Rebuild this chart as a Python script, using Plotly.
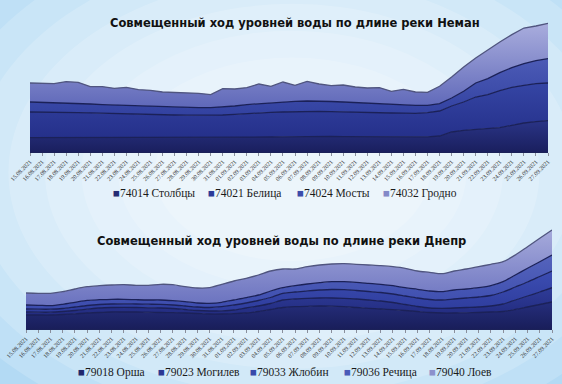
import plotly.graph_objects as go

# ---------------- data ----------------
dates = [f"{d:02d}.08.2021" for d in range(15, 32)] + [f"{d:02d}.09.2021" for d in range(1, 28)]

neman_names = ["74014 Столбцы", "74021 Белица", "74024 Мосты", "74032 Гродно"]
neman_stolbtsy = [14.4, 14.4, 14.4, 14.4, 14.4, 14.4, 14.4, 14.4, 14.4, 14.4, 14.4, 14.4, 14.4, 14.4, 14.4,
                  14.4, 14.4, 14.4, 14.6, 14.8, 15.0, 15.2, 15.4, 15.6, 15.8, 15.6, 15.4, 15.4, 15.4, 15.2,
                  15.0, 15.0, 15.0, 15.2, 16.0, 20.0, 21.7, 22.4, 23.0, 24.4, 26.7, 29.0, 30.4, 31.4]
neman_belitsa = [25.6, 25.6, 25.4, 25.2, 25.0, 24.7, 24.3, 24.0, 23.6, 23.3, 23.0, 22.8, 22.6, 22.4, 22.3,
                 22.3, 22.6, 23.2, 23.8, 24.2, 24.7, 24.8, 25.0, 25.0, 24.9, 24.8, 24.6, 24.5, 24.3, 24.2,
                 24.0, 23.9, 23.7, 24.2, 25.0, 26.0, 28.3, 32.6, 34.4, 37.0, 38.0, 37.7, 38.0, 37.6]
neman_mosty = [10.0, 9.7, 9.2, 9.1, 9.0, 8.9, 8.7, 8.6, 8.7, 8.3, 8.0, 7.8, 7.7, 7.7, 7.7,
               7.7, 8.0, 8.4, 9.0, 9.4, 9.7, 10.0, 10.3, 10.4, 10.3, 10.1, 10.0, 9.5, 9.0, 9.0,
               8.7, 8.3, 8.0, 7.3, 7.4, 8.0, 10.7, 14.0, 16.0, 18.0, 19.7, 21.7, 23.0, 24.4]
neman_grodno = [19.0, 19.3, 19.4, 21.7, 21.3, 17.4, 18.0, 16.7, 18.0, 16.4, 16.3, 15.0, 15.0, 14.5, 14.3,
                13.0, 18.4, 17.0, 17.0, 19.6, 16.3, 20.0, 16.0, 19.7, 17.0, 15.9, 17.0, 15.6, 15.3, 16.0,
                13.0, 15.5, 13.3, 13.0, 17.3, 21.0, 24.3, 25.0, 29.0, 30.6, 33.0, 35.6, 34.6, 35.3]

dnepr_names = ["79018 Орша", "79023 Могилев", "79033 Жлобин", "79036 Речица", "79040 Лоев"]
dnepr_orsha = [14.0, 14.0, 14.0, 14.5, 15.2, 16.0, 16.5, 17.0, 17.0, 17.0, 16.8, 16.5, 16.3, 16.0, 15.5,
               15.0, 15.0, 15.3, 16.0, 17.5, 19.5, 21.5, 22.3, 22.7, 23.0, 22.8, 22.3, 21.5, 20.7, 20.0,
               19.3, 18.5, 17.5, 16.5, 16.0, 16.0, 16.2, 16.5, 17.0, 17.5, 19.5, 22.0, 24.5, 27.0]
dnepr_mogilev = [3.0, 2.8, 2.8, 3.0, 3.3, 3.8, 4.5, 4.5, 4.7, 4.5, 4.4, 4.5, 4.2, 3.5, 3.0,
                 3.0, 3.2, 3.7, 5.0, 5.5, 6.0, 7.5, 7.7, 8.0, 8.0, 8.2, 8.4, 8.5, 8.3, 8.0,
                 7.2, 6.0, 5.0, 4.5, 4.7, 5.0, 5.3, 5.5, 6.0, 7.5, 9.5, 11.0, 12.5, 14.3]
dnepr_zhlobin = [3.0, 3.0, 3.0, 3.0, 3.5, 3.7, 3.5, 3.5, 3.5, 3.5, 3.6, 3.6, 3.5, 3.5, 3.5,
                 3.5, 4.1, 5.0, 5.0, 5.5, 6.0, 6.7, 7.0, 7.5, 8.0, 8.5, 8.6, 8.5, 8.5, 8.5,
                 8.5, 8.5, 8.5, 8.5, 8.3, 9.0, 9.5, 10.0, 10.5, 12.0, 13.0, 14.0, 15.5, 16.7]
dnepr_rechitsa = [4.0, 3.9, 3.5, 4.2, 4.7, 5.2, 4.8, 4.7, 4.5, 4.3, 4.2, 4.4, 4.3, 4.3, 4.0,
                  4.2, 4.4, 5.0, 5.3, 5.5, 6.5, 5.6, 6.3, 6.8, 7.3, 7.8, 8.0, 8.2, 8.2, 8.2,
                  8.3, 8.3, 8.7, 8.5, 8.3, 9.0, 9.0, 9.3, 9.8, 10.3, 12.0, 13.7, 14.8, 16.0]
dnepr_loev = [12.0, 12.0, 12.4, 12.6, 13.3, 13.6, 14.0, 14.3, 14.6, 14.4, 14.7, 15.7, 16.0, 15.0, 15.0,
              15.6, 18.0, 19.0, 19.4, 20.0, 20.0, 18.7, 16.7, 17.3, 17.7, 17.7, 18.0, 18.0, 18.3, 18.6,
              19.0, 19.4, 18.3, 18.7, 18.0, 19.0, 20.0, 21.0, 21.4, 20.0, 20.0, 21.6, 23.4, 25.0]

neman_title = "Совмещенный ход уровней воды по длине реки Неман"
dnepr_title = "Совмещенный ход уровней воды по длине реки Днепр"

# ---------------- styling ----------------
W, H = 562, 384
neman_scales = [
    [[0, "#1a1f5e"], [1, "#2a3486"]],
    [[0, "#25308a"], [1, "#3545a4"]],
    [[0, "#3241a0"], [1, "#4c5bb6"]],
    [[0, "#5f68b9"], [1, "#a9addd"]],
]
neman_legend_colors = ["#242c74", "#2c3b98", "#3c4caa", "#8389c8"]
dnepr_scales = [
    [[0, "#191e5a"], [1, "#252e7c"]],
    [[0, "#232c80"], [1, "#2f3c98"]],
    [[0, "#2e3c9c"], [1, "#3c4db2"]],
    [[0, "#3c4cae"], [1, "#5564bc"]],
    [[0, "#6a72bf"], [1, "#a6aadb"]],
]
dnepr_legend_colors = ["#20276c", "#2b3892", "#3849aa", "#4a5ab8", "#8b91cc"]

fig = go.Figure()

neman_series = [neman_stolbtsy, neman_belitsa, neman_mosty, neman_grodno]
for i, (nm, vals) in enumerate(zip(neman_names, neman_series)):
    fig.add_trace(go.Scatter(
        x=dates, y=vals, name=nm, stackgroup="neman", mode="lines",
        line=dict(color="#50557f" if i == 3 else "#1b2158", width=1.3),
        fillgradient=dict(type="vertical", colorscale=neman_scales[i]),
        xaxis="x", yaxis="y", showlegend=False, hoverinfo="skip"))

dnepr_series = [dnepr_orsha, dnepr_mogilev, dnepr_zhlobin, dnepr_rechitsa, dnepr_loev]
for i, (nm, vals) in enumerate(zip(dnepr_names, dnepr_series)):
    fig.add_trace(go.Scatter(
        x=dates, y=vals, name=nm, stackgroup="dnepr", mode="lines",
        line=dict(color="#50557f" if i == 4 else "#1b2158", width=1.3, shape="spline", smoothing=0.8),
        fillgradient=dict(type="vertical", colorscale=dnepr_scales[i]),
        xaxis="x2", yaxis="y2", showlegend=False, hoverinfo="skip"))

xcommon = dict(type="category", range=[0, len(dates) - 1], showgrid=False, zeroline=False,
               showline=True, linecolor="#1b2158", linewidth=1,
               ticks="outside", ticklen=3, tickcolor="#8a8f9c", tickwidth=1,
               tickangle=-45, tickfont=dict(family="Liberation Serif", size=6, color="#333333"),
               automargin=False, fixedrange=True)
ycommon = dict(visible=False, fixedrange=True)

fig.update_layout(
    width=W, height=H, autosize=False,
    margin=dict(l=0, r=0, t=0, b=0, pad=0),
    paper_bgcolor="#b3daf4", plot_bgcolor="rgba(0,0,0,0)",
    xaxis=dict(xcommon, domain=[30 / W, 548 / W], anchor="y"),
    yaxis=dict(ycommon, domain=[1 - 152 / H, 1 - 22 / H], range=[0, 130]),
    xaxis2=dict(xcommon, domain=[26 / W, 552 / W], anchor="y2"),
    yaxis2=dict(ycommon, domain=[1 - 329 / H, 1 - 229 / H], range=[0, 100]),
    showlegend=False,
)

# soft radial background (white centre, light-blue edges)
shapes = []
for k in range(8):
    rx = 0.70 - k * 0.065
    ry = 0.72 - k * 0.07
    shapes.append(dict(type="circle", xref="paper", yref="paper",
                       x0=0.52 - rx, x1=0.52 + rx, y0=0.55 - ry, y1=0.55 + ry,
                       fillcolor="white", opacity=0.17, line=dict(width=0), layer="below"))
fig.update_layout(shapes=shapes)

ann = []
ann.append(dict(text=f"<b>{neman_title}</b>", x=295 / W, y=1 - 23 / H, xref="paper", yref="paper",
                showarrow=False, xanchor="center", yanchor="middle",
                font=dict(family="DejaVu Sans", size=11.5, color="#111111")))
ann.append(dict(text=f"<b>{dnepr_title}</b>", x=281 / W, y=1 - 241 / H, xref="paper", yref="paper",
                showarrow=False, xanchor="center", yanchor="middle",
                font=dict(family="DejaVu Sans", size=11.5, color="#111111")))

neman_leg_x = [111, 206, 295, 381]
for nm, col, lx in zip(neman_names, neman_legend_colors, neman_leg_x):
    ann.append(dict(text=f"<span style='color:{col}'>■</span>{nm}", x=lx / W, y=1 - 193 / H,
                    xref="paper", yref="paper", showarrow=False, xanchor="left", yanchor="middle",
                    font=dict(family="Liberation Serif", size=11.5, color="#1a1a1a")))
dnepr_leg_x = [76, 156, 248, 342, 427]
for nm, col, lx in zip(dnepr_names, dnepr_legend_colors, dnepr_leg_x):
    ann.append(dict(text=f"<span style='color:{col}'>■</span>{nm}", x=lx / W, y=1 - 372 / H,
                    xref="paper", yref="paper", showarrow=False, xanchor="left", yanchor="middle",
                    font=dict(family="Liberation Serif", size=11.5, color="#1a1a1a")))
fig.update_layout(annotations=ann)

fig.write_html("out.html", config={"displayModeBar": False},
               post_script="document.body.style.margin='0px';")
